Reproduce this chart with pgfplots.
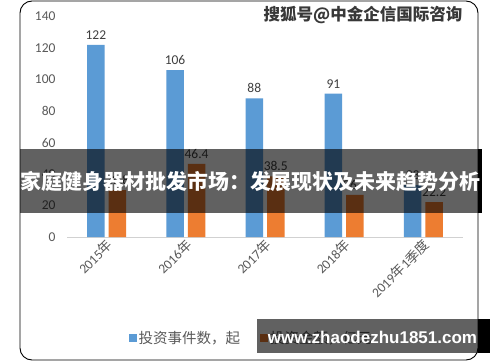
\documentclass[border=0pt]{standalone}
\usepackage{pgfplots}
\pgfplotsset{compat=1.18}
\usepackage{fontspec}
\setmainfont{Carlito}
\newfontfamily\cjk{Noto Sans CJK SC}
\newfontfamily\webfont{Liberation Sans}
\definecolor{cblue}{HTML}{5B9BD5}
\definecolor{corange}{HTML}{ED7D31}
\definecolor{tgray}{HTML}{595959}
\definecolor{lgray}{HTML}{404040}
\begin{document}
\begin{tikzpicture}
\useasboundingbox (0pt,0pt) rectangle (500pt,362pt);
\fill[white] (0pt,0pt) rectangle (500pt,362pt);
\draw[black, line width=0.9pt, rounded corners=12pt] (20pt,2pt) rectangle (478pt,361pt);
\begin{axis}[
  at={(67pt,125pt)}, anchor=south west, scale only axis,
  width=396pt, height=220.5pt,
  xmin=-0.5, xmax=4.5, ymin=0, ymax=140,
  ybar=4pt, bar width=17.5pt,
  axis x line*=bottom, axis y line*=left,
  y axis line style={draw=none},
  x axis line style={draw=black!18, line width=0.9pt, -},
  xtick={0,1,2,3,4},
  xticklabels={2015{\cjk 年},2016{\cjk 年},2017{\cjk 年},2018{\cjk 年},2019{\cjk 年}1{\cjk 季度}},
  ytick={0,20,...,140},
  major tick length=0pt,
  tick label style={font=\fontsize{13.5}{14}\selectfont, text=tgray},
  /pgf/number format/assume math mode=true,
  xticklabel style={rotate=45, anchor=east, yshift=-6pt, xshift=2pt},
  yticklabel style={xshift=-8pt},
  nodes near coords,
  nodes near coords style={font=\fontsize{13.5}{14}\selectfont, text=lgray, yshift=2pt},
  clip=false,
  legend style={at={(0.465,-0.458)}, anchor=center, draw=none, fill=none,
    legend columns=2, font=\cjk\fontsize{14.5}{15}\selectfont, text=tgray,
    /tikz/every even column/.append style={column sep=18pt}},
  legend image code/.code={\fill[#1] (0pt,-4pt) rectangle (8pt,4pt);},
]
\addplot[fill=cblue, draw=none] coordinates {(0,122) (1,106) (2,88) (3,91) (4,33)};
\addplot[fill=corange, draw=none] coordinates {(0,29.8) (1,46.4) (2,38.5) (3,26.7) (4,22.2)};
\legend{投资事件数，起,投资金额，亿元}
\end{axis}
% title banner
\fill[black, opacity=0.62] (20pt,149pt) rectangle (478pt,213pt);
\fill[black] (478pt,149pt) rectangle (482pt,213pt);
\node[text=white, font=\cjk\bfseries\fontsize{20.9}{21}\selectfont, inner sep=0pt] at (250pt,181pt) {家庭健身器材批发市场：发展现状及未来趋势分析};
% bottom watermark box
\fill[black, opacity=0.62] (257pt,9pt) rectangle (478pt,43pt);
\fill[black] (478pt,9pt) rectangle (490pt,43pt);
\node[text=white, font=\webfont\bfseries\fontsize{17}{17}\selectfont, inner sep=0pt] at (372.5pt,25pt) {www.zhaodezhu1851.com};
% top watermark
\node[text=black!78, font=\cjk\bfseries\fontsize{16.5}{17}\selectfont, inner sep=0pt] at (363pt,347pt) {搜狐号@中金企信国际咨询};
\end{tikzpicture}
\end{document}
